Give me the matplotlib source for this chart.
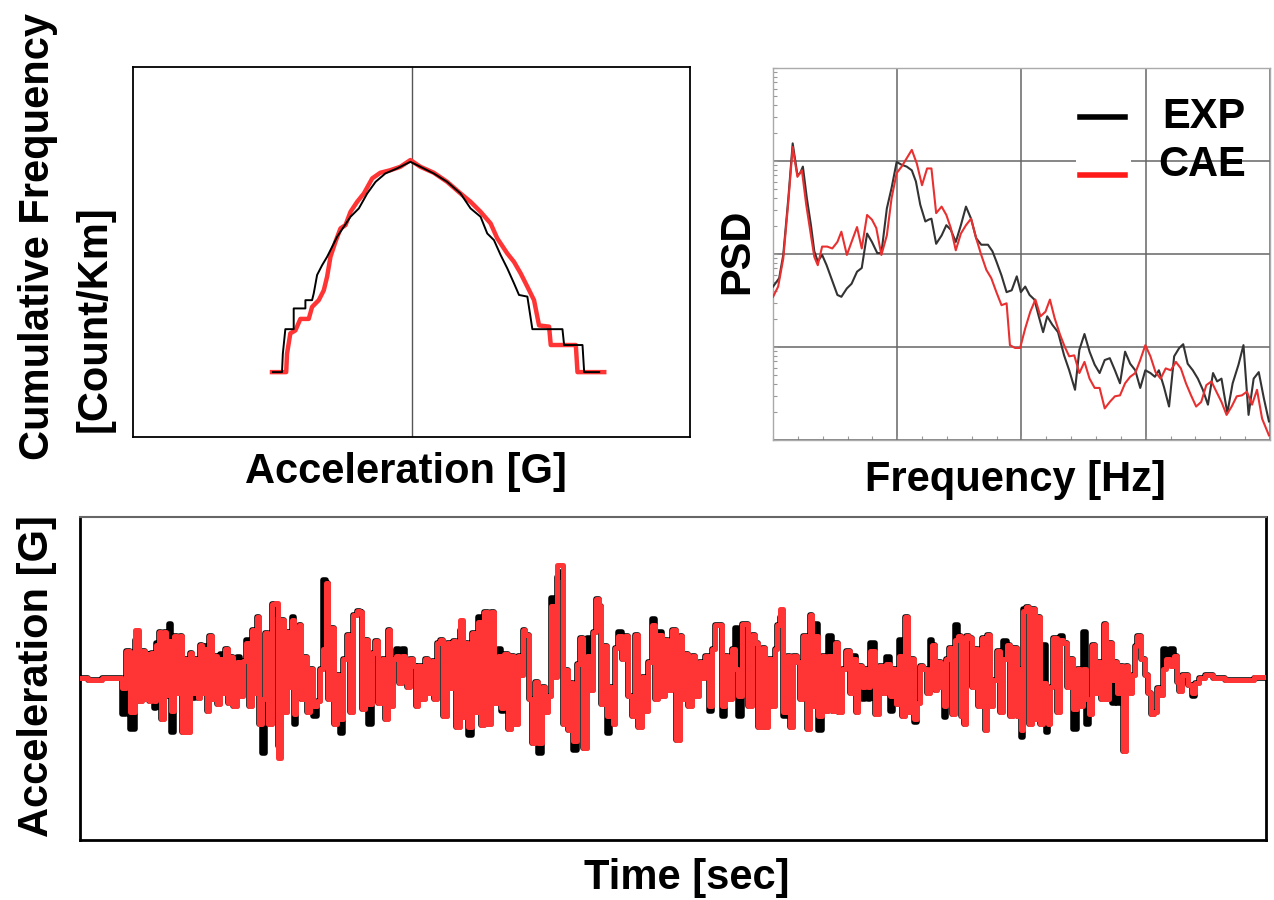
import matplotlib
matplotlib.use("Agg")
import matplotlib.pyplot as plt
import numpy as np
from matplotlib.ticker import MultipleLocator, NullFormatter, LogLocator
from matplotlib.patches import Rectangle

plt.rcParams['font.family'] = ['Liberation Sans', 'DejaVu Sans']
plt.rcParams['font.weight'] = 'bold'

RED = '#ff3535'

# --- level crossing (cumulative frequency) ---
acc_exp_g = [-0.498, -0.465, -0.462, -0.453, -0.423, -0.423, -0.381, -0.381, -0.357, -0.351,
             -0.339, -0.321, -0.303, -0.285, -0.267, -0.243, -0.219, -0.189, -0.159, -0.129,
             -0.094, -0.052, -0.004, 0.032, 0.080, 0.128, 0.176, 0.212, 0.248, 0.272,
             0.296, 0.320, 0.344, 0.368, 0.386, 0.416, 0.434, 0.488, 0.542, 0.548,
             0.614, 0.620, 0.674]
count_exp = [1.0, 1.0, 1.6, 3.0, 3.0, 5.1, 5.1, 6.3, 6.3, 7.5,
             12.0, 15.4, 19.1, 24.7, 31.9, 41.2, 53.2, 65.9, 96.6, 130,
             161, 183, 217, 191, 161, 130, 96.6, 65.9, 53.2, 34.7,
             29.3, 20.0, 14.2, 9.7, 7.2, 6.9, 3.0, 3.0, 3.0, 2.0,
             2.0, 1.0, 1.0]
acc_cae_g = [-0.501, -0.450, -0.447, -0.435, -0.417, -0.399, -0.369, -0.357, -0.333, -0.315,
             -0.303, -0.291, -0.273, -0.255, -0.237, -0.219, -0.195, -0.171, -0.141, -0.112,
             -0.076, -0.040, -0.004, 0.032, 0.080, 0.128, 0.176, 0.212, 0.248, 0.284,
             0.308, 0.344, 0.368, 0.392, 0.416, 0.440, 0.458, 0.494, 0.500, 0.590,
             0.596, 0.692]
count_cae = [1.0, 1.0, 1.6, 2.7, 2.9, 3.9, 3.9, 5.3, 6.3, 8.1,
             11.5, 19.1, 28.1, 39.5, 43.0, 60.4, 78.1, 96.6, 142, 164,
             175, 191, 227, 191, 164, 130, 96.6, 78.1, 60.4, 44.9,
             30.6, 20.8, 16.8, 12.5, 8.9, 6.3, 3.3, 3.2, 2.0, 2.0,
             1.0, 1.0]

# --- PSD (log10 of PSD, arbitrary units) ---
freq_exp = [0, 0.49, 0.82, 1.23, 1.58, 1.96, 2.18, 2.40, 2.72, 3.05, 3.32, 3.60, 3.95, 4.31,
            4.69, 5.18, 5.50, 5.94, 6.32, 6.76, 7.14, 7.57, 7.96, 8.39, 8.72, 9.16, 9.54,
            9.95, 10.35, 10.76, 11.17, 11.50, 11.85, 12.26, 12.53, 12.75, 13.13, 13.57,
            13.95, 14.31, 14.71, 15.12, 15.53, 15.94, 16.35, 16.76, 17.30, 17.66, 17.98,
            18.39, 18.80, 19.21, 19.62, 19.95, 20.30, 20.65, 21.04, 21.39, 21.74, 22.07,
            22.48, 22.94, 23.43, 23.84, 24.31, 24.66, 25.07, 25.48, 25.89, 26.29, 26.70,
            27.11, 27.52, 27.93, 28.34, 28.75, 29.16, 29.56, 29.97, 30.38, 30.74, 31.06,
            31.47, 31.88, 32.29, 32.70, 33.02, 33.38, 33.79, 34.20, 34.60, 35.01, 35.42,
            35.75, 36.10, 36.57, 37.00, 37.47, 37.87, 38.28, 38.69, 39.10, 39.51, 39.92]
psd_exp_log = [1.65, 1.74, 1.99, 2.60, 3.19, 2.85, 2.87, 2.94, 2.60, 2.31, 2.03, 1.92, 1.99,
               1.88, 1.74, 1.56, 1.54, 1.63, 1.68, 1.81, 1.85, 2.22, 2.13, 2.01, 2.01, 2.49,
               2.71, 2.99, 2.96, 2.94, 2.90, 2.78, 2.53, 2.35, 2.37, 2.38, 2.11, 2.20, 2.31,
               2.26, 2.13, 2.31, 2.51, 2.38, 2.17, 2.10, 2.10, 2.03, 1.92, 1.77, 1.59, 1.61,
               1.76, 1.59, 1.65, 1.56, 1.51, 1.33, 1.16, 1.33, 1.24, 1.16, 0.91, 0.75, 0.54,
               0.97, 1.14, 0.95, 0.81, 0.72, 0.86, 0.88, 0.75, 0.61, 0.95, 0.82, 0.75, 0.56,
               0.75, 0.72, 0.68, 0.75, 0.57, 0.36, 0.90, 0.99, 1.03, 0.82, 0.75, 0.66, 0.54,
               0.38, 0.72, 0.63, 0.66, 0.29, 0.61, 0.81, 1.02, 0.27, 0.66, 0.73, 0.45, 0.20]
freq_cae = [0, 0.41, 0.82, 1.23, 1.58, 1.96, 2.32, 2.67, 3.05, 3.32, 3.60, 3.95, 4.36, 4.77,
            5.18, 5.50, 5.94, 6.32, 6.76, 7.14, 7.57, 7.96, 8.31, 8.72, 9.16, 9.54, 9.95,
            10.35, 10.76, 11.17, 11.58, 11.99, 12.40, 12.75, 13.13, 13.57, 13.95, 14.31,
            14.71, 15.12, 15.53, 15.94, 16.35, 16.76, 17.17, 17.57, 17.98, 18.39, 18.80,
            19.07, 19.48, 19.89, 20.30, 20.71, 21.12, 21.53, 21.93, 22.29, 22.67, 23.11,
            23.49, 23.84, 24.25, 24.66, 25.07, 25.48, 25.89, 26.29, 26.70, 27.11, 27.52,
            27.93, 28.34, 28.75, 29.16, 29.56, 29.97, 30.38, 30.79, 31.20, 31.61, 32.02,
            32.43, 32.83, 33.24, 33.65, 34.06, 34.47, 34.88, 35.29, 35.69, 36.10, 36.51,
            36.92, 37.33, 37.74, 38.15, 38.56, 38.96, 39.37, 39.92]
psd_cae_log = [1.54, 1.65, 1.95, 2.56, 3.15, 2.83, 2.90, 2.53, 2.20, 1.97, 1.88, 2.08, 2.08,
               2.06, 2.13, 2.24, 1.99, 2.13, 2.29, 2.06, 2.42, 2.37, 2.28, 1.99, 2.20, 2.60,
               2.87, 2.94, 3.03, 3.12, 2.97, 2.74, 2.92, 2.92, 2.44, 2.51, 2.42, 2.28, 2.04,
               2.22, 2.31, 2.38, 2.17, 1.99, 1.83, 1.74, 1.59, 1.45, 1.47, 1.02, 0.99, 0.99,
               1.20, 1.38, 1.51, 1.33, 1.38, 1.51, 1.31, 1.13, 1.00, 0.90, 0.91, 0.72, 0.84,
               0.66, 0.56, 0.56, 0.34, 0.41, 0.47, 0.48, 0.61, 0.68, 0.72, 0.86, 1.02, 0.90,
               0.73, 0.66, 0.77, 0.75, 0.84, 0.77, 0.61, 0.48, 0.36, 0.41, 0.59, 0.63, 0.52,
               0.41, 0.27, 0.36, 0.47, 0.48, 0.52, 0.38, 0.54, 0.23, 0.05]

# --- time history ---
time_s = [0.00, 0.75, 1.42, 2.00, 2.17, 2.42, 2.62, 2.88, 3.00, 3.17,
          3.28, 3.42, 3.52, 3.62, 3.75, 3.88, 4.00, 4.12, 4.25, 4.37,
          4.50, 4.62, 4.75, 4.92, 5.05, 5.17, 5.28, 5.42, 5.55, 5.67,
          5.83, 5.95, 6.05, 6.17, 6.28, 6.38, 6.55, 6.65, 6.75, 6.92,
          7.08, 7.20, 7.33, 7.42, 7.58, 7.75, 7.92, 8.08, 8.25, 8.37,
          8.50, 8.67, 8.80, 8.92, 9.00, 9.17, 9.33, 9.50, 9.67, 9.83,
          9.95, 10.12, 10.25, 10.42, 10.55, 10.62, 10.75, 10.88, 11.00, 11.13,
          11.25, 11.42, 11.58, 11.75, 11.92, 12.08, 12.22, 12.33, 12.50, 12.62,
          12.75, 12.92, 13.05, 13.25, 13.42, 13.58, 13.75, 13.92, 14.05, 14.17,
          14.33, 14.50, 14.67, 14.83, 15.00, 15.17, 15.33, 15.42, 15.58, 15.75,
          15.87, 16.00, 16.17, 16.28, 16.42, 16.58, 16.75, 16.83, 17.00, 17.17,
          17.33, 17.50, 17.67, 17.75, 17.92, 18.08, 18.25, 18.42, 18.58, 18.75,
          18.88, 19.08, 19.17, 19.33, 19.50, 19.67, 19.80, 19.97, 20.13, 20.30,
          20.47, 20.63, 20.80, 20.97, 21.13, 21.30, 21.47, 21.63, 21.80, 21.97,
          22.08, 22.17, 22.37, 22.53, 22.67, 22.83, 23.00, 23.17, 23.33, 23.47,
          23.63, 23.77, 23.92, 24.08, 24.20, 24.33, 24.47, 24.58, 24.75, 24.92,
          25.08, 25.25, 25.42, 25.58, 25.75, 25.87, 26.00, 26.13, 26.25, 26.42,
          26.58, 26.70, 26.83, 27.00, 27.17, 27.33, 27.50, 27.67, 27.83, 28.00,
          28.17, 28.33, 28.50, 28.67, 28.83, 29.00, 29.17, 29.33, 29.50, 29.70,
          29.92, 30.03, 30.20, 30.33, 30.50, 30.67, 30.83, 31.03, 31.17, 31.37,
          31.50, 31.67, 31.83, 32.00, 32.17, 32.33, 32.50, 32.67, 32.83, 33.00,
          33.17, 33.33, 33.50, 33.67, 33.83, 34.00, 34.17, 34.33, 34.50, 34.67,
          34.80, 34.92, 35.08, 35.25, 35.42, 35.58, 35.75, 35.92, 36.08, 36.25,
          36.42, 36.53, 36.67, 36.83, 37.00, 37.17, 37.33, 37.50, 37.67, 37.83,
          38.00, 38.17, 38.42, 38.58, 38.75, 38.83, 39.00, 39.17, 39.33, 39.45,
          39.58, 39.88, 40.05, 40.22, 40.38, 40.58, 40.75, 40.87, 41.00, 41.17,
          41.33, 41.50, 41.63, 41.75, 41.92, 42.08, 42.25, 42.42, 42.55, 42.67,
          42.78, 42.95, 43.12, 43.25, 43.38, 43.55, 43.67, 43.83, 44.00, 44.12,
          44.25, 44.38, 44.55, 44.67, 44.83, 45.00, 45.17, 45.28, 45.42, 45.58,
          45.75, 45.92, 46.05, 46.25, 46.42, 46.58, 46.75, 46.92, 47.00, 47.08,
          47.22, 47.42, 47.50, 47.67, 47.78, 47.92, 48.05, 48.22, 48.33, 48.45,
          48.58, 48.75, 48.92, 49.08, 49.25, 49.42, 49.58, 49.75, 49.92, 50.08,
          50.25, 50.38, 50.50, 50.67, 50.83, 51.00, 51.12, 51.25, 51.38, 51.55,
          51.67, 51.78, 51.92, 52.08, 52.22, 52.33, 52.50, 52.67, 52.78, 52.95,
          53.12, 53.33, 53.50, 53.62, 53.75, 53.92, 54.05, 54.22, 54.42, 54.62,
          54.78, 54.88, 55.00, 55.17, 55.33, 55.50, 55.67, 55.83, 56.08, 56.42,
          56.92, 57.58, 58.42, 58.92, 59.30]
acc_cae = [0.00, -0.01, 0.00, 0.00, -0.06, 0.17, -0.21, 0.30, -0.14, 0.17,
           -0.13, 0.15, -0.14, 0.16, -0.14, 0.21, 0.29, -0.25, 0.29, -0.10,
           0.23, -0.20, 0.26, -0.09, 0.26, -0.33, 0.12, -0.33, 0.16, -0.09,
           0.12, -0.12, 0.21, -0.09, 0.18, -0.20, 0.26, -0.13, 0.14, -0.16,
           0.12, -0.09, 0.18, -0.15, 0.13, -0.17, 0.10, -0.11, 0.11, 0.22,
           -0.17, 0.30, -0.09, 0.38, -0.28, -0.13, 0.28, -0.28, 0.46, 0.47,
           -0.49, 0.36, -0.21, 0.29, -0.05, 0.36, -0.22, -0.01, 0.33, -0.13,
           0.13, -0.21, 0.06, -0.17, -0.14, 0.06, 0.18, 0.59, -0.13, 0.31,
           -0.28, 0.02, -0.25, 0.12, 0.27, -0.21, 0.39, 0.42, 0.41, -0.19,
           0.24, -0.16, 0.16, 0.23, -0.15, 0.12, -0.25, 0.30, -0.17, 0.12,
           0.14, -0.03, 0.14, 0.12, -0.05, 0.12, 0.08, -0.17, 0.08, -0.13,
           0.12, -0.09, 0.11, -0.13, 0.22, 0.24, -0.23, 0.22, -0.06, 0.23,
           -0.30, 0.36, -0.24, 0.22, -0.30, 0.28, -0.21, 0.35, -0.29, 0.41,
           -0.28, 0.41, -0.15, 0.14, -0.18, 0.15, -0.31, 0.14, -0.28, 0.14,
           0.02, 0.30, 0.27, -0.13, -0.40, -0.02, -0.40, -0.05, -0.21, -0.11,
           0.45, 0.01, 0.70, 0.70, -0.28, 0.05, -0.32, -0.03, -0.39, 0.09,
           0.25, -0.43, 0.14, -0.07, 0.29, 0.49, 0.45, -0.16, 0.20, -0.23,
           -0.05, -0.28, 0.19, 0.26, 0.12, 0.26, -0.11, -0.23, 0.27, -0.30,
           0.01, -0.20, 0.10, 0.33, -0.13, 0.27, -0.11, 0.24, -0.07, 0.30,
           -0.38, 0.26, -0.13, 0.15, -0.17, 0.14, -0.11, 0.10, 0.00, 0.14,
           -0.17, 0.18, 0.33, 0.33, -0.17, 0.14, -0.13, 0.18, 0.06, -0.11,
           0.34, 0.34, -0.17, 0.27, 0.22, -0.30, 0.19, -0.30, 0.12, -0.17,
           0.18, 0.33, 0.43, -0.21, 0.14, -0.30, 0.14, 0.10, -0.13, 0.26,
           -0.31, 0.39, -0.17, 0.26, -0.23, 0.14, -0.20, 0.14, -0.20, 0.22,
           -0.21, 0.06, 0.17, -0.09, 0.12, -0.21, 0.08, -0.05, 0.06, -0.05,
           0.17, -0.22, 0.08, -0.09, 0.09, -0.11, 0.06, -0.16, 0.14, -0.23,
           0.38, -0.21, 0.12, -0.25, -0.15, 0.08, 0.06, -0.09, 0.06, 0.21,
           -0.07, 0.10, -0.05, -0.17, 0.12, 0.19, -0.22, 0.24, 0.26, -0.23,
           -0.28, 0.26, 0.25, -0.05, 0.18, -0.17, 0.25, -0.32, 0.27, -0.17,
           -0.01, 0.17, -0.21, 0.12, 0.21, -0.23, 0.19, -0.23, 0.06, -0.32,
           0.42, 0.44, -0.28, 0.43, -0.25, 0.38, -0.28, -0.03, -0.14, -0.28,
           -0.05, 0.25, -0.21, 0.24, 0.22, -0.05, 0.12, -0.19, 0.06, -0.17,
           0.06, -0.13, -0.22, 0.21, -0.09, 0.10, -0.13, 0.34, -0.13, 0.22,
           -0.01, 0.10, -0.09, 0.08, -0.45, 0.08, -0.09, 0.02, 0.20, 0.26,
           0.12, 0.02, -0.09, -0.22, -0.21, -0.06, -0.10, 0.06, 0.12, 0.08,
           0.14, -0.02, -0.08, 0.02, 0.02, -0.04, -0.09, -0.03, 0.00, 0.02,
           0.00, -0.01, -0.01, 0.01, 0.01]
acc_exp = [0.00, -0.01, 0.00, 0.00, -0.22, 0.17, -0.31, 0.24, -0.14, 0.17,
           -0.13, 0.15, -0.14, 0.16, -0.18, 0.22, 0.29, -0.25, 0.29, -0.11,
           0.34, -0.33, 0.26, -0.09, 0.26, -0.33, 0.12, -0.33, 0.16, -0.12,
           0.12, -0.12, 0.21, -0.09, 0.20, -0.20, 0.26, -0.13, 0.14, -0.16,
           0.15, -0.09, 0.18, -0.15, 0.13, -0.17, 0.13, -0.11, 0.11, 0.24,
           -0.17, 0.30, -0.09, 0.38, -0.28, -0.46, 0.28, -0.28, 0.46, 0.40,
           -0.42, 0.36, -0.21, 0.29, -0.05, 0.38, -0.28, -0.01, 0.33, -0.13,
           0.13, -0.21, 0.06, -0.23, -0.14, 0.06, 0.61, 0.59, -0.13, 0.31,
           -0.28, 0.02, -0.34, 0.12, 0.27, -0.21, 0.39, 0.42, 0.41, -0.19,
           0.24, -0.28, 0.16, 0.23, -0.15, 0.12, -0.25, 0.30, -0.17, 0.12,
           0.18, -0.03, 0.18, 0.12, -0.05, 0.12, 0.08, -0.17, 0.08, -0.13,
           0.12, -0.09, 0.11, -0.13, 0.22, 0.24, -0.23, 0.22, -0.06, 0.23,
           -0.30, 0.30, -0.24, 0.22, -0.35, 0.28, -0.21, 0.38, -0.29, 0.41,
           -0.28, 0.41, -0.15, 0.18, -0.20, 0.15, -0.31, 0.14, -0.28, 0.14,
           0.02, 0.30, 0.27, -0.13, -0.40, -0.02, -0.46, -0.05, -0.21, -0.11,
           0.50, 0.01, 0.63, 0.66, -0.28, 0.05, -0.32, -0.03, -0.44, 0.09,
           0.25, -0.43, 0.25, -0.07, 0.29, 0.49, 0.45, -0.16, 0.20, -0.34,
           -0.05, -0.28, 0.19, 0.29, 0.12, 0.26, -0.11, -0.23, 0.27, -0.30,
           0.01, -0.20, 0.10, 0.37, -0.13, 0.29, -0.11, 0.24, -0.07, 0.30,
           -0.38, 0.26, -0.13, 0.15, -0.17, 0.14, -0.11, 0.10, 0.00, 0.14,
           -0.20, 0.18, 0.33, 0.33, -0.23, 0.14, -0.13, 0.18, 0.31, -0.23,
           0.34, 0.34, -0.17, 0.27, 0.22, -0.30, 0.19, -0.30, 0.12, -0.17,
           0.18, 0.33, 0.38, -0.23, 0.14, -0.30, 0.14, 0.10, -0.13, 0.26,
           -0.31, 0.39, -0.17, 0.34, -0.32, 0.14, -0.20, 0.26, -0.20, 0.22,
           -0.21, 0.06, 0.17, -0.09, 0.14, -0.21, 0.08, -0.13, 0.06, -0.13,
           0.22, -0.22, 0.08, -0.09, 0.13, -0.20, 0.06, -0.16, 0.24, -0.23,
           0.38, -0.21, 0.12, -0.27, -0.15, 0.08, 0.06, -0.09, 0.24, 0.21,
           -0.07, 0.10, -0.05, -0.24, 0.12, 0.19, -0.22, 0.33, 0.26, -0.23,
           -0.28, 0.26, 0.25, -0.05, 0.18, -0.17, 0.25, -0.32, 0.27, -0.17,
           -0.01, 0.17, -0.21, 0.23, 0.21, -0.23, 0.19, -0.23, 0.06, -0.36,
           0.43, 0.44, -0.28, 0.43, -0.25, 0.38, -0.28, 0.21, -0.33, -0.28,
           -0.05, 0.25, -0.21, 0.26, 0.22, -0.05, 0.12, -0.31, 0.06, -0.17,
           0.29, -0.28, -0.22, 0.21, -0.09, 0.10, -0.13, 0.34, -0.13, 0.22,
           -0.15, 0.10, -0.15, 0.08, -0.45, 0.08, -0.09, 0.02, 0.20, 0.26,
           0.12, 0.02, -0.09, -0.22, -0.21, -0.06, -0.10, 0.18, 0.12, 0.18,
           0.14, -0.02, -0.08, 0.02, 0.02, -0.04, -0.11, -0.03, 0.00, 0.02,
           0.00, -0.01, -0.01, 0.00, 0.00]

fig = plt.figure(figsize=(12.74, 9), dpi=100)
lab = dict(fontsize=30, fontweight='bold')

# top-left: cumulative frequency
ax1 = fig.add_axes([0.1044, 0.5144, 0.4372, 0.4111])
ax1.set_yscale('log')
ax1.plot(acc_cae_g, count_cae, color=RED, lw=3.2, zorder=3)
ax1.plot(acc_exp_g, count_exp, color='black', lw=1.4, zorder=4)
ax1.axvline(0, color='#555555', lw=1, zorder=2)
ax1.set_xlim(-1, 1)
ax1.set_ylim(0.19, 2450)
ax1.set_xticks([])
ax1.set_yticks([])
ax1.yaxis.set_minor_locator(plt.NullLocator())
for s in ax1.spines.values():
    s.set_linewidth(1.3)

# top-right: PSD
ax2 = fig.add_axes([0.6068, 0.5111, 0.390, 0.4133])
ax2.set_yscale('log')
ax2.plot(freq_exp, 10 ** np.array(psd_exp_log), color='#333333', lw=1.5, zorder=3)
ax2.plot(freq_cae, 10 ** np.array(psd_cae_log), color='#e83030', lw=1.5, zorder=3)
ax2.set_xlim(0, 40)
ax2.set_ylim(1, 1e4)
ax2.xaxis.set_major_locator(MultipleLocator(10))
ax2.xaxis.set_minor_locator(MultipleLocator(2))
ax2.yaxis.set_major_locator(LogLocator(base=10, numticks=10))
ax2.yaxis.set_minor_locator(LogLocator(base=10, subs=np.arange(2, 10), numticks=10))
ax2.xaxis.set_major_formatter(NullFormatter())
ax2.xaxis.set_minor_formatter(NullFormatter())
ax2.yaxis.set_major_formatter(NullFormatter())
ax2.yaxis.set_minor_formatter(NullFormatter())
ax2.tick_params(which='both', direction='in', color='#999999', length=3, width=0.8)
ax2.grid(True, which='major', color='#666666', lw=1.1)
for s in ax2.spines.values():
    s.set_color('#aaaaaa')
    s.set_linewidth(1.0)
ax2.add_patch(Rectangle((0.61, 0.728), 0.11, 0.04, transform=ax2.transAxes,
                        facecolor='white', edgecolor='none', zorder=2.5))
ax2.plot([0.618, 0.708], [0.868, 0.868], transform=ax2.transAxes, color='black', lw=4, zorder=4)
ax2.plot([0.618, 0.708], [0.712, 0.712], transform=ax2.transAxes, color='#ff1a1a', lw=4, zorder=4)
ax2.text(0.783, 0.868, 'EXP', transform=ax2.transAxes, va='center', ha='left', zorder=5, **lab)
ax2.text(0.775, 0.738, 'CAE', transform=ax2.transAxes, va='center', ha='left', zorder=5, **lab)

# bottom: time history
ax3 = fig.add_axes([0.0628, 0.0667, 0.931, 0.3589])
ax3.plot(time_s, acc_exp, color='black', lw=4.0, drawstyle='steps-mid', zorder=2)
ax3.plot(time_s, acc_cae, color=RED, lw=3.6, drawstyle='steps-mid', zorder=3)
ax3.set_xlim(0, 59.3)
ax3.set_ylim(-1, 1)
ax3.set_xticks([])
ax3.set_yticks([])
for k, s in ax3.spines.items():
    s.set_linewidth(2.0)
ax3.spines['top'].set_color('#666666')
ax3.spines['top'].set_linewidth(1.5)

# axis titles
fig.text(0.319, 0.4756, 'Acceleration [G]', ha='center', va='center', **lab)
fig.text(0.797, 0.467, 'Frequency [Hz]', ha='center', va='center', **lab)
fig.text(0.579, 0.721, 'PSD', ha='center', va='center', rotation=90, **lab)
fig.text(0.539, 0.0244, 'Time [sec]', ha='center', va='center', **lab)
fig.text(0.029, 0.249, 'Acceleration [G]', ha='center', va='center', rotation=90, **lab)
fig.text(0.030, 0.737, 'Cumulative Frequency', ha='center', va='center', rotation=90, **lab)
fig.text(0.074, 0.646, '[Count/Km]', ha='center', va='center', rotation=90, **lab)

fig.savefig('out.png', dpi=100)
